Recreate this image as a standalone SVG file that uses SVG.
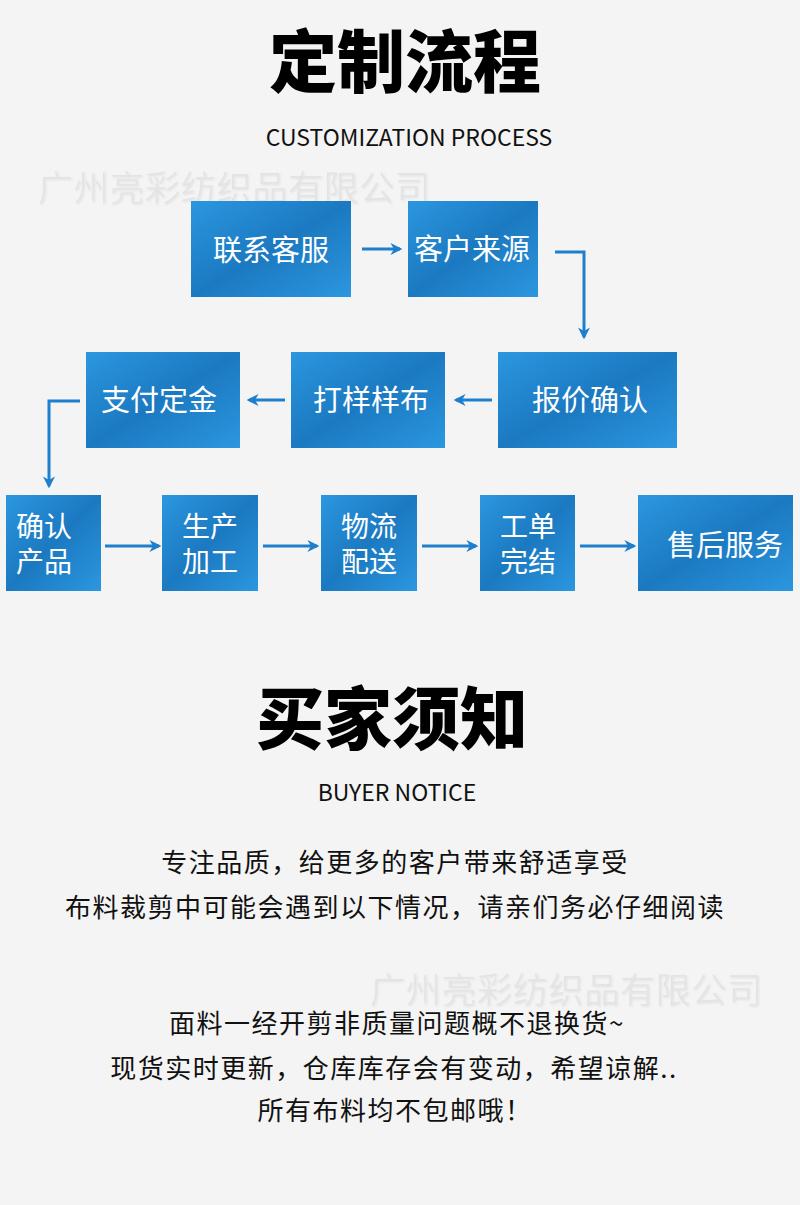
<svg xmlns="http://www.w3.org/2000/svg" width="800" height="1205" viewBox="0 0 800 1205">
<defs>
<linearGradient id="bg" x1="0" y1="0" x2="1" y2="1">
<stop offset="0" stop-color="#2b97df"/>
<stop offset="0.5" stop-color="#1b79c1"/>
<stop offset="1" stop-color="#2b97df"/>
</linearGradient>
<marker id="ah" viewBox="0 0 10 10" refX="8" refY="5" markerWidth="4" markerHeight="4" orient="auto" markerUnits="strokeWidth">
<path d="M0,0 L10,5 L0,10 L3,5 Z" fill="#1e7fcc"/>
</marker>
<filter id="sh" x="-5%" y="-20%" width="110%" height="140%">
<feDropShadow dx="1" dy="1" stdDeviation="0.8" flood-color="#c8c8c8" flood-opacity="0.5"/>
</filter>
</defs>
<style>
.box{fill:url(#bg)}
.bt{font-family:"Noto Sans CJK SC","Noto Sans",sans-serif;fill:#ffffff;font-size:29px}
.bt2{font-family:"Noto Sans CJK SC","Noto Sans",sans-serif;fill:#ffffff;font-size:28px}
.title{font-family:"Noto Sans CJK SC",sans-serif;font-weight:900;font-size:68px;fill:#000;text-anchor:middle}
.sub{font-family:"Noto Sans CJK SC","Noto Sans",sans-serif;font-size:23px;fill:#111;text-anchor:middle}
.body{font-family:"Noto Sans CJK SC",sans-serif;font-size:26px;fill:#111;text-anchor:middle;letter-spacing:1.5px}
.wm{font-family:"Noto Sans CJK SC",sans-serif;font-weight:300;font-size:35px;fill:#e4e4e4;filter:url(#sh)}
.c{fill:none;stroke:#1e7fcc;stroke-width:3;marker-end:url(#ah)}
</style>
<rect width="800" height="1205" fill="#f4f4f4"/>

<text class="wm" x="38" y="201" textLength="392">广州亮彩纺织品有限公司</text>
<text class="wm" x="370" y="1003" textLength="392">广州亮彩纺织品有限公司</text>

<text class="title" x="405" y="87">定制流程</text>
<text class="sub" x="409" y="146">CUSTOMIZATION PROCESS</text>

<g id="n1"><rect class="box" x="191" y="201" width="160" height="96"/><text class="bt" x="271" y="261" text-anchor="middle">联系客服</text></g>
<g id="n2"><rect class="box" x="408" y="201" width="130" height="96"/><text class="bt" x="472" y="260" text-anchor="middle">客户来源</text></g>
<g id="n3"><rect class="box" x="498" y="352" width="179" height="96"/><text class="bt" x="590" y="411" text-anchor="middle">报价确认</text></g>
<g id="n4"><rect class="box" x="291" y="352" width="154" height="96"/><text class="bt" x="371" y="411" text-anchor="middle">打样样布</text></g>
<g id="n5"><rect class="box" x="86" y="352" width="154" height="96"/><text class="bt" x="159" y="411" text-anchor="middle">支付定金</text></g>
<g id="n6"><rect class="box" x="6" y="495" width="95" height="96"/><text class="bt2" x="16" y="537">确认</text><text class="bt2" x="16" y="572">产品</text></g>
<g id="n7"><rect class="box" x="162" y="495" width="96" height="96"/><text class="bt2" x="210" y="537" text-anchor="middle">生产</text><text class="bt2" x="210" y="572" text-anchor="middle">加工</text></g>
<g id="n8"><rect class="box" x="321" y="495" width="96" height="96"/><text class="bt2" x="369" y="537" text-anchor="middle">物流</text><text class="bt2" x="369" y="572" text-anchor="middle">配送</text></g>
<g id="n9"><rect class="box" x="480" y="495" width="95" height="96"/><text class="bt2" x="528" y="537" text-anchor="middle">工单</text><text class="bt2" x="528" y="572" text-anchor="middle">完结</text></g>
<g id="n10"><rect class="box" x="638" y="495" width="155" height="96"/><text class="bt" x="725" y="556" text-anchor="middle">售后服务</text></g>

<g id="connectors">
<path class="c" d="M362,249 L400,249"/>
<path class="c" d="M555,252 L584,252 L584,337"/>
<path class="c" d="M492,400 L456,400"/>
<path class="c" d="M285,400 L249,400"/>
<path class="c" d="M80,401 L49,401 L49,486"/>
<path class="c" d="M105,546 L159,546"/>
<path class="c" d="M263,546 L317,546"/>
<path class="c" d="M422,546 L476,546"/>
<path class="c" d="M580,546 L634,546"/>
</g>

<text class="title" x="392" y="744">买家须知</text>
<text class="sub" x="397" y="801">BUYER NOTICE</text>

<text class="body" x="395" y="872">专注品质，给更多的客户带来舒适享受</text>
<text class="body" x="395" y="917">布料裁剪中可能会遇到以下情况，请亲们务必仔细阅读</text>
<text class="body" x="397" y="1033">面料一经开剪非质量问题概不退换货~</text>
<text class="body" x="394" y="1078">现货实时更新，仓库库存会有变动，希望谅解..</text>
<text class="body" x="395" y="1120">所有布料均不包邮哦！</text>
</svg>
